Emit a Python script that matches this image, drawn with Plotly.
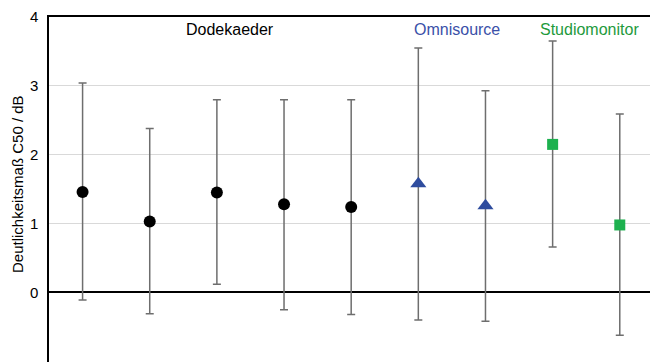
import plotly.graph_objects as go

# Mean C50 per measurement with lower/upper bounds of the spread
positions = [1, 2, 3, 4, 5, 6, 7, 8, 9]
c50_mean = [1.46, 1.03, 1.45, 1.28, 1.24, 1.58, 1.26, 2.15, 0.98]
c50_upper = [3.04, 2.38, 2.80, 2.80, 2.80, 3.55, 2.93, 3.65, 2.59]
c50_lower = [-0.11, -0.31, 0.12, -0.25, -0.32, -0.40, -0.42, 0.66, -0.62]

groups = [
    {"name": "Dodekaeder", "idx": [0, 1, 2, 3, 4], "symbol": "circle",
     "color": "#000000", "size": 12, "label_x": 3.2, "label_color": "#000000"},
    {"name": "Omnisource", "idx": [5, 6], "symbol": "triangle-up",
     "color": "#2E4C9E", "size": 14, "label_x": 6.58, "label_color": "#3A50A8"},
    {"name": "Studiomonitor", "idx": [7, 8], "symbol": "square",
     "color": "#1DB14F", "size": 11, "label_x": 8.55, "label_color": "#1E9A3C"},
]

font_family = "Liberation Sans, Arial, sans-serif"

fig = go.Figure()
for g in groups:
    xs = [positions[i] for i in g["idx"]]
    ys = [c50_mean[i] for i in g["idx"]]
    up = [c50_upper[i] - c50_mean[i] for i in g["idx"]]
    dn = [c50_mean[i] - c50_lower[i] for i in g["idx"]]
    fig.add_trace(go.Scatter(
        x=xs, y=ys, mode="markers", name=g["name"],
        marker=dict(symbol=g["symbol"], color=g["color"], size=g["size"],
                    line=dict(width=0)),
        error_y=dict(type="data", symmetric=False, array=up, arrayminus=dn,
                     color="#6E6E6E", thickness=1.5, width=4),
        showlegend=False,
    ))
    fig.add_annotation(x=g["label_x"], y=3.82, text=g["name"], showarrow=False,
                       font=dict(size=16, color=g["label_color"]),
                       xanchor="center", yanchor="middle")

# Vertical axis title
fig.add_annotation(xref="paper", yref="paper", x=0, y=0.516, xshift=-31,
                   text="Deutlichkeitsmaß C50 / dB", textangle=-90,
                   showarrow=False, xanchor="center", yanchor="middle",
                   font=dict(size=15, color="#000000"))

fig.update_layout(
    width=650, height=362,
    margin=dict(l=49, r=0, t=17, b=0),
    paper_bgcolor="white", plot_bgcolor="white",
    font=dict(family=font_family, size=15, color="#000000"),
    xaxis=dict(range=[0.5, 9.45], showticklabels=False, ticks="",
               showgrid=False, zeroline=False, showline=True, side="top",
               linecolor="#000000", linewidth=1.5),
    yaxis=dict(range=[-1.01, 4], tickvals=[-1, 0, 1, 2, 3, 4],
               ticks="", ticklabelstandoff=6,
               tickfont=dict(size=15, color="#000000"),
               showgrid=True, gridcolor="#D9D9D9", gridwidth=1,
               zeroline=True, zerolinecolor="#000000", zerolinewidth=1.5,
               showline=True, linecolor="#000000", linewidth=1.5),
)

fig.write_html("out.html")
